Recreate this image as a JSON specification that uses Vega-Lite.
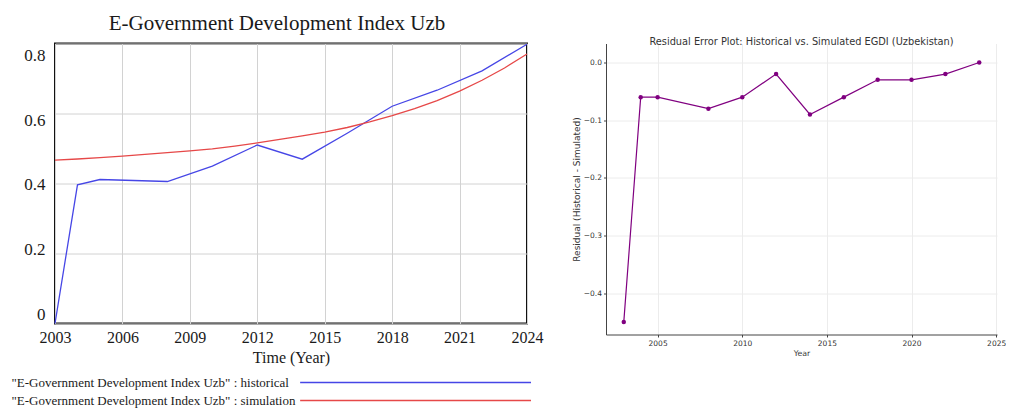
{
  "$schema": "https://vega.github.io/schema/vega-lite/v6.json",
  "background": "white",
  "padding": {"left": 10, "top": 11.5, "right": 0, "bottom": 0},
  "config": {
    "view": {"stroke": null},
    "axis": {"labelFlush": false}
  },
  "datasets": {
    "egdi": [
      {"year": 2003, "value": 0.0, "series": "historical"},
      {"year": 2004, "value": 0.3963, "series": "historical"},
      {"year": 2005, "value": 0.4114, "series": "historical"},
      {"year": 2008, "value": 0.4057, "series": "historical"},
      {"year": 2010, "value": 0.4498, "series": "historical"},
      {"year": 2012, "value": 0.5099, "series": "historical"},
      {"year": 2014, "value": 0.4695, "series": "historical"},
      {"year": 2016, "value": 0.5434, "series": "historical"},
      {"year": 2018, "value": 0.6207, "series": "historical"},
      {"year": 2020, "value": 0.6665, "series": "historical"},
      {"year": 2022, "value": 0.722, "series": "historical"},
      {"year": 2024, "value": 0.798, "series": "historical"},
      {"year": 2003, "value": 0.467, "series": "simulation"},
      {"year": 2004, "value": 0.470, "series": "simulation"},
      {"year": 2005, "value": 0.474, "series": "simulation"},
      {"year": 2006, "value": 0.478, "series": "simulation"},
      {"year": 2007, "value": 0.483, "series": "simulation"},
      {"year": 2008, "value": 0.488, "series": "simulation"},
      {"year": 2009, "value": 0.493, "series": "simulation"},
      {"year": 2010, "value": 0.499, "series": "simulation"},
      {"year": 2011, "value": 0.507, "series": "simulation"},
      {"year": 2012, "value": 0.516, "series": "simulation"},
      {"year": 2013, "value": 0.526, "series": "simulation"},
      {"year": 2014, "value": 0.536, "series": "simulation"},
      {"year": 2015, "value": 0.547, "series": "simulation"},
      {"year": 2016, "value": 0.560, "series": "simulation"},
      {"year": 2017, "value": 0.576, "series": "simulation"},
      {"year": 2018, "value": 0.594, "series": "simulation"},
      {"year": 2019, "value": 0.614, "series": "simulation"},
      {"year": 2020, "value": 0.637, "series": "simulation"},
      {"year": 2021, "value": 0.664, "series": "simulation"},
      {"year": 2022, "value": 0.695, "series": "simulation"},
      {"year": 2023, "value": 0.730, "series": "simulation"},
      {"year": 2024, "value": 0.770, "series": "simulation"}
    ],
    "residuals": [
      {"year": 2003, "residual": -0.45},
      {"year": 2004, "residual": -0.06},
      {"year": 2005, "residual": -0.06},
      {"year": 2008, "residual": -0.08},
      {"year": 2010, "residual": -0.06},
      {"year": 2012, "residual": -0.02},
      {"year": 2014, "residual": -0.09},
      {"year": 2016, "residual": -0.06},
      {"year": 2018, "residual": -0.03},
      {"year": 2020, "residual": -0.03},
      {"year": 2022, "residual": -0.02},
      {"year": 2024, "residual": 0.0}
    ],
    "runs": [
      {"series": "historical"},
      {"series": "simulation"}
    ]
  },
  "spacing": 7,
  "vconcat": [
    {
      "bounds": "flush",
      "spacing": 79,
      "hconcat": [
        {
          "width": 472,
          "height": 280,
          "view": {"stroke": "#111111", "strokeWidth": 2},
          "title": {
            "text": "E-Government Development Index Uzb",
            "font": "Liberation Serif",
            "fontSize": 21,
            "fontWeight": "normal",
            "color": "#1a1a1a",
            "anchor": "middle",
            "dx": -14,
            "offset": 8
          },
          "data": {"name": "egdi"},
          "mark": {"type": "line", "strokeWidth": 1.3},
          "encoding": {
            "x": {
              "field": "year",
              "type": "quantitative",
              "scale": {"domain": [2003, 2024], "nice": false, "zero": false},
              "axis": {
                "values": [2003, 2006, 2009, 2012, 2015, 2018, 2021, 2024],
                "format": "d",
                "ticks": false,
                "domain": false,
                "grid": true,
                "gridColor": "#d2d2d2",
                "labelFont": "Liberation Serif",
                "labelFontSize": 16,
                "labelColor": "#1a1a1a",
                "labelPadding": 6,
                "title": "Time (Year)",
                "titleFont": "Liberation Serif",
                "titleFontSize": 16,
                "titleFontWeight": "normal",
                "titleColor": "#1a1a1a",
                "titlePadding": 4
              }
            },
            "y": {
              "field": "value",
              "type": "quantitative",
              "scale": {"domain": [0, 0.8], "nice": false},
              "axis": {
                "values": [0, 0.2, 0.4, 0.6, 0.8],
                "format": ".1~f",
                "ticks": false,
                "domain": false,
                "grid": true,
                "gridColor": "#d2d2d2",
                "labelFont": "Liberation Serif",
                "labelFontSize": 17,
                "labelColor": "#1a1a1a",
                "labelPadding": 10,
                "labelOffset": {"expr": "26 * datum.value - 9"},
                "minExtent": 44,
                "title": null
              }
            },
            "color": {
              "field": "series",
              "type": "nominal",
              "scale": {"domain": ["historical", "simulation"], "range": ["#4646e6", "#e64848"]},
              "legend": null
            }
          }
        },
        {
          "width": 391,
          "height": 291,
          "title": {
            "text": "Residual Error Plot: Historical vs. Simulated EGDI (Uzbekistan)",
            "font": "DejaVu Sans",
            "fontSize": 9.8,
            "fontWeight": "normal",
            "color": "#333333",
            "offset": -3.5
          },
          "data": {"name": "residuals"},
          "encoding": {
            "x": {
              "field": "year",
              "type": "quantitative",
              "scale": {"domain": [2001.95, 2025.05], "nice": false, "zero": false},
              "axis": {
                "values": [2005, 2010, 2015, 2020, 2025],
                "format": "d",
                "grid": true,
                "gridColor": "#ececec",
                "domainColor": "#444444",
                "tickColor": "#444444",
                "tickSize": 2.5,
                "labelFont": "DejaVu Sans",
                "labelFontSize": 7.5,
                "labelColor": "#333333",
                "labelPadding": 2,
                "title": "Year",
                "titleFont": "DejaVu Sans",
                "titleFontSize": 7.8,
                "titleFontWeight": "normal",
                "titleColor": "#333333",
                "titlePadding": 3
              }
            },
            "y": {
              "field": "residual",
              "type": "quantitative",
              "scale": {"domain": [-0.4715, 0.033], "nice": false, "zero": false},
              "axis": {
                "values": [-0.4, -0.3, -0.2, -0.1, 0],
                "format": ".1f",
                "grid": true,
                "gridColor": "#ececec",
                "domainColor": "#444444",
                "tickColor": "#444444",
                "tickSize": 2.5,
                "labelFont": "DejaVu Sans",
                "labelFontSize": 7.5,
                "labelColor": "#333333",
                "labelPadding": 2,
                "title": "Residual (Historical - Simulated)",
                "titleFont": "DejaVu Sans",
                "titleFontSize": 9,
                "titleFontWeight": "normal",
                "titleColor": "#333333",
                "titlePadding": 2
              }
            }
          },
          "layer": [
            {
              "mark": {"type": "rule", "strokeDash": [4, 2], "color": "#444444", "strokeWidth": 0.8},
              "encoding": {"y": {"datum": 0}}
            },
            {
              "mark": {
                "type": "line",
                "color": "#800080",
                "strokeWidth": 1.2,
                "point": {"filled": true, "size": 20, "color": "#800080"}
              }
            }
          ]
        }
      ]
    },
    {
      "width": 476,
      "height": 36,
      "data": {"name": "runs"},
      "mark": {"type": "rule", "strokeWidth": 1.6},
      "encoding": {
        "x": {
          "datum": 0.515,
          "type": "quantitative",
          "scale": {"domain": [0, 1], "nice": false, "zero": false},
          "axis": null
        },
        "x2": {"datum": 1},
        "y": {
          "field": "series",
          "type": "nominal",
          "scale": {"type": "point", "padding": 0.5},
          "axis": {
            "title": null,
            "domain": false,
            "ticks": false,
            "grid": false,
            "labelFont": "Liberation Serif",
            "labelFontSize": 13,
            "labelColor": "#1a1a1a",
            "labelAlign": "left",
            "labelPadding": 44,
            "labelLimit": 0,
            "labelExpr": "'\"E-Government Development Index Uzb\" : ' + datum.label"
          }
        },
        "color": {
          "field": "series",
          "type": "nominal",
          "scale": {"domain": ["historical", "simulation"], "range": ["#4646e6", "#e64848"]},
          "legend": null
        }
      }
    }
  ]
}
